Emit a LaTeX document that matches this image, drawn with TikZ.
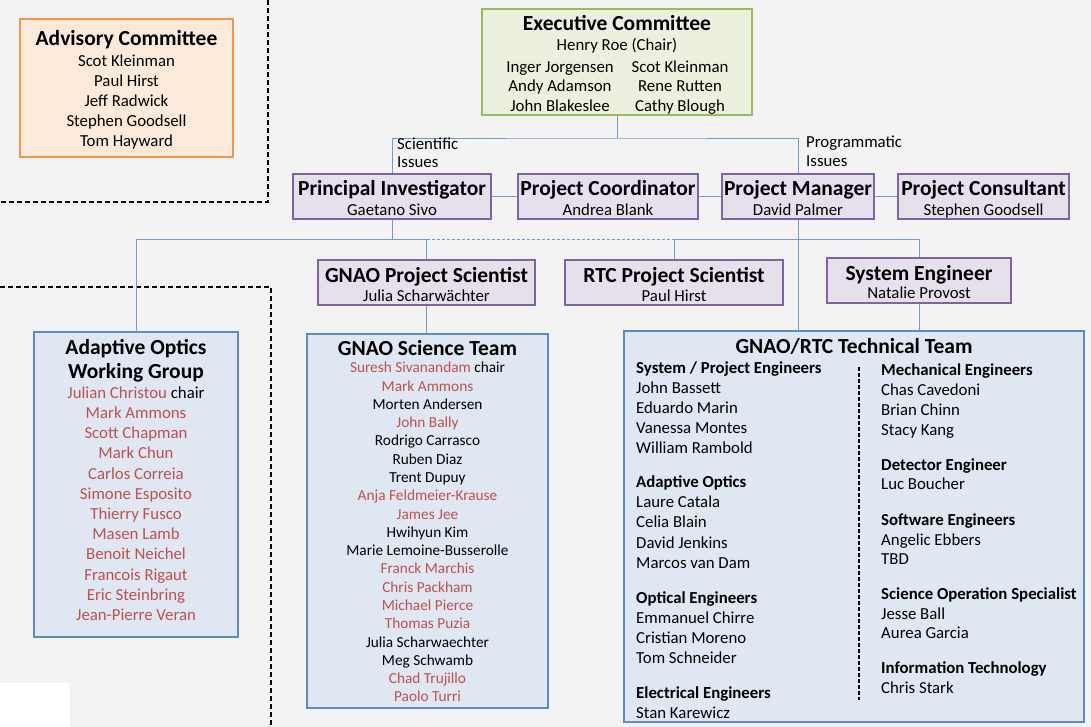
\documentclass[tikz,border=0pt]{standalone}
\usepackage{fontspec}
\setmainfont{Carlito}
\definecolor{bgC}{HTML}{F3F3F3}
\definecolor{purpD}{HTML}{8064A2}
\definecolor{purpL}{HTML}{E6E0EC}
\definecolor{blueD}{HTML}{5B8CC8}
\definecolor{blueL}{HTML}{DFE7F2}
\definecolor{greenD}{HTML}{9BBB59}
\definecolor{greenL}{HTML}{EBF1DE}
\definecolor{orD}{HTML}{F79646}
\definecolor{orL}{HTML}{FDEADA}
\definecolor{rd}{HTML}{C0504D}
\definecolor{lineC}{HTML}{6E9BD2}
\newcommand\R[1]{\textcolor{rd}{#1}}
\newcommand\Ttl{\fontsize{21.5}{25}\selectfont\bfseries}
\newcommand\Nm{\fontsize{16.8}{20}\selectfont}
\newcommand\Hd{\fontsize{16.8}{20}\selectfont\bfseries}
\newcommand\Sm{\fontsize{15.3}{18}\selectfont}
\newcommand\mkbox[6]{\node[#2, minimum width={(#5-#3-2)*1pt}, minimum height={(#6-#4-2)*1pt}] (#1) at ({(#3+#5)/2},{(#4+#6)/2}) {};}
\tikzset{
  box/.style={draw, line width=2.6pt, inner sep=0pt},
  pbox/.style={box, draw=purpD, fill=purpL},
  bbox/.style={box, draw=blueD, fill=blueL},
  gbox/.style={box, draw=greenD, fill=greenL},
  obox/.style={box, draw=orD, fill=orL},
  txt/.style={inner sep=0pt, anchor=base},
  ltxt/.style={inner sep=0pt, anchor=base west},
  conn/.style={draw=lineC, line width=0.9pt},
  sep/.style={draw=black, line width=1.6pt, dash pattern=on 5pt off 3pt},
  isep/.style={draw=black, line width=1.2pt, dash pattern=on 4pt off 2pt},
}
\begin{document}
\begin{tikzpicture}[x=1pt,y=-1pt]
\fill[bgC] (0,0) rectangle (1091,727);
\useasboundingbox (0,0) rectangle (1091,727);
\fill[white] (0,683) rectangle (70,727);

% separators
\coordinate (s1a) at (268,0); \coordinate (s1b) at (268,202); \coordinate (s1c) at (0,202);
\draw[sep] (s1a) -- (s1b) -- (s1c);
\coordinate (s2a) at (0,287); \coordinate (s2b) at (271,287); \coordinate (s2c) at (271,727);
\draw[sep] (s2a) -- (s2b) -- (s2c);

% boxes
\mkbox{adv}{obox}{19}{18}{234}{158}
\mkbox{exec}{gbox}{481}{8}{753}{116}
\mkbox{pi}{pbox}{292}{173}{492}{220}
\mkbox{pc}{pbox}{517}{173}{699}{220}
\mkbox{pm}{pbox}{721}{173}{875}{220}
\mkbox{pcons}{pbox}{897}{173}{1070}{220}
\mkbox{gnps}{pbox}{317}{259}{536}{306}
\mkbox{rtc}{pbox}{564}{259}{784}{306}
\mkbox{se}{pbox}{826}{257}{1012}{304}
\mkbox{aowg}{bbox}{33}{331}{239}{638}
\mkbox{sci}{bbox}{306}{333}{549}{709}
\mkbox{tech}{bbox}{623}{330}{1085}{723}

% connectors
\coordinate (ej) at (617,138);
\coordinate (hj) at (392,239);
\draw[conn] (exec.south) -- (ej);
\draw[conn] (pi.north) |- (ej) -| (pm.north);
\draw[conn] (pi.east) -- (pc.west);
\draw[conn] (pc.east) -- (pm.west);
\draw[conn] (pm.east) -- (pcons.west);
\draw[conn] (pi.south) -- (hj);
\draw[conn] (aowg.north) |- (gnps.north |- hj) -- (gnps.north);
\draw[conn, dash pattern=on 3pt off 2pt] (gnps.north |- hj) -- (rtc.north |- hj);
\draw[conn] (rtc.north) |- (se.north |- hj) -- (se.north);
\draw[conn] (pm.south) -- (pm.south |- tech.north);
\draw[conn] (gnps.south) -- (gnps.south |- sci.north);
\draw[conn] (se.south) -- (se.south |- tech.north);

% labels
\node[ltxt, font=\Nm] (lsci1) at (397,150) {Scientific};
\node[ltxt, font=\Nm] (lsci2) at (397,168) {Issues};
\node[ltxt, font=\Nm] (lprg1) at (806,148) {Programmatic};
\node[ltxt, font=\Nm] (lprg2) at (806,167) {Issues};

% advisory
\node[txt, font=\Ttl] (advt) at (126.5,46) {Advisory Committee};
\foreach \t [count=\i from 0] in {Scot Kleinman, Paul Hirst, Jeff Radwick, Stephen Goodsell, Tom Hayward}
  \node[txt, font=\Nm] (adv-\i) at (126.5,66.3+\i*20) {\t};

% executive
\node[txt, font=\Ttl] (exect) at (617,31) {Executive Committee};
\node[txt, font=\Nm] (exec0) at (617,50.3) {Henry Roe (Chair)};
\foreach \t [count=\i from 0] in {Inger Jorgensen, Andy Adamson, John Blakeslee}
  \node[txt, font=\Nm] (execl-\i) at (560,72.3+\i*19.5) {\t};
\foreach \t [count=\i from 0] in {Scot Kleinman, Rene Rutten, Cathy Blough}
  \node[txt, font=\Nm] (execr-\i) at (680,72.3+\i*19.5) {\t};

% purple boxes
\node[txt, font=\Ttl] (pit) at (392,196) {Principal Investigator};
\node[txt, font=\Nm] (pin) at (392,215.3) {Gaetano Sivo};
\node[txt, font=\Ttl] (pct) at (608,196) {Project Coordinator};
\node[txt, font=\Nm] (pcn) at (608,215.3) {Andrea Blank};
\node[txt, font=\Ttl] (pmt) at (798,196) {Project Manager};
\node[txt, font=\Nm] (pmn) at (798,215.3) {David Palmer};
\node[txt, font=\Ttl] (pconst) at (983.5,196) {Project Consultant};
\node[txt, font=\Nm] (pconsn) at (983.5,215.3) {Stephen Goodsell};
\node[txt, font=\Ttl] (gnpst) at (426.5,282) {GNAO Project Scientist};
\node[txt, font=\Nm] (gnpsn) at (426.5,301.3) {Julia Scharwächter};
\node[txt, font=\Ttl] (rtct) at (674,282) {RTC Project Scientist};
\node[txt, font=\Nm] (rtcn) at (674,301.3) {Paul Hirst};
\node[txt, font=\Ttl] (set) at (919,280) {System Engineer};
\node[txt, font=\Nm] (sen) at (919,298.3) {Natalie Provost};

% AO working group
\node[txt, font=\Ttl] (aowgt1) at (136,354) {Adaptive Optics};
\node[txt, font=\Ttl] (aowgt2) at (136,378) {Working Group};
\node[txt, font=\Nm] (aowg-0) at (136,398.3) {\R{Julian Christou} chair};
\foreach \t [count=\i from 1] in {Mark Ammons, Scott Chapman, Mark Chun, Carlos Correia, Simone Esposito, Thierry Fusco, Masen Lamb, Benoit Neichel, Francois Rigaut, Eric Steinbring, Jean-Pierre Veran}
  \node[txt, font=\Nm, text=rd] (aowg-\i) at (136,398.3+\i*20.2) {\t};

% science team
\node[txt, font=\Ttl] (scit) at (427.5,355) {GNAO Science Team};
\foreach \t [count=\i from 0] in {\R{Suresh Sivanandam} chair, \R{Mark Ammons}, Morten Andersen, \R{John Bally}, Rodrigo Carrasco, Ruben Diaz, Trent Dupuy, \R{Anja Feldmeier-Krause}, \R{James Jee}, Hwihyun Kim, Marie Lemoine-Busserolle, \R{Franck Marchis}, \R{Chris Packham}, \R{Michael Pierce}, \R{Thomas Puzia}, Julia Scharwaechter, Meg Schwamb, \R{Chad Trujillo}, \R{Paolo Turri}}
  \node[txt, font=\Sm] (sci-\i) at (427.5,372.8+\i*18.28) {\t};

% technical team
\node[txt, font=\Ttl] (techt) at (854,353) {GNAO/RTC Technical Team};
\coordinate (isa) at (859,367); \coordinate (isb) at (859,700);
\draw[isep] (isa) -- (isb);
\node[ltxt, font=\Hd] (tl1) at (636,373.3) {System / Project Engineers};
\node[ltxt, font=\Nm] (tl2) at (636,393.3) {John Bassett};
\node[ltxt, font=\Nm] (tl3) at (636,413.3) {Eduardo Marin};
\node[ltxt, font=\Nm] (tl4) at (636,433.3) {Vanessa Montes};
\node[ltxt, font=\Nm] (tl5) at (636,453.3) {William Rambold};
\node[ltxt, font=\Hd] (tl6) at (636,487.3) {Adaptive Optics};
\node[ltxt, font=\Nm] (tl7) at (636,507.3) {Laure Catala};
\node[ltxt, font=\Nm] (tl8) at (636,527.3) {Celia Blain};
\node[ltxt, font=\Nm] (tl9) at (636,548.3) {David Jenkins};
\node[ltxt, font=\Nm] (tl10) at (636,568.3) {Marcos van Dam};
\node[ltxt, font=\Hd] (tl11) at (636,603.3) {Optical Engineers};
\node[ltxt, font=\Nm] (tl12) at (636,623.3) {Emmanuel Chirre};
\node[ltxt, font=\Nm] (tl13) at (636,643.3) {Cristian Moreno};
\node[ltxt, font=\Nm] (tl14) at (636,663.3) {Tom Schneider};
\node[ltxt, font=\Hd] (tl15) at (636,698.3) {Electrical Engineers};
\node[ltxt, font=\Nm] (tl16) at (636,718.3) {Stan Karewicz};
\node[ltxt, font=\Hd] (tr1) at (881,375.3) {Mechanical Engineers};
\node[ltxt, font=\Nm] (tr2) at (881,395.3) {Chas Cavedoni};
\node[ltxt, font=\Nm] (tr3) at (881,415.3) {Brian Chinn};
\node[ltxt, font=\Nm] (tr4) at (881,435.3) {Stacy Kang};
\node[ltxt, font=\Hd] (tr5) at (881,470.3) {Detector Engineer};
\node[ltxt, font=\Nm] (tr6) at (881,489.3) {Luc Boucher};
\node[ltxt, font=\Hd] (tr7) at (881,525.3) {Software Engineers};
\node[ltxt, font=\Nm] (tr8) at (881,545.3) {Angelic Ebbers};
\node[ltxt, font=\Nm] (tr9) at (881,564.3) {TBD};
\node[ltxt, font=\Hd] (tr10) at (881,599.3) {Science Operation Specialist};
\node[ltxt, font=\Nm] (tr11) at (881,619.3) {Jesse Ball};
\node[ltxt, font=\Nm] (tr12) at (881,638.3) {Aurea Garcia};
\node[ltxt, font=\Hd] (tr13) at (881,673.3) {Information Technology};
\node[ltxt, font=\Nm] (tr14) at (881,693.3) {Chris Stark};
\end{tikzpicture}
\end{document}
